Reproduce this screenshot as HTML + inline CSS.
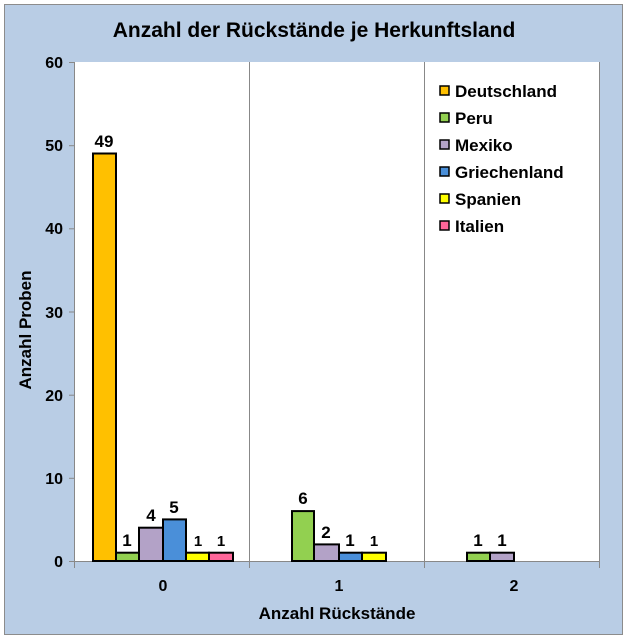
<!DOCTYPE html>
<html><head><meta charset="utf-8"><style>
body{margin:0;background:#fff;}
svg{display:block;font-family:"Liberation Sans",Arial,sans-serif;font-weight:bold;}
</style></head><body>
<svg width="628" height="640" viewBox="0 0 628 640">
<rect x="4.5" y="4.5" width="618" height="630" fill="#b9cde5" stroke="#8c8c8c" stroke-width="1"/>
<text x="314" y="37" font-size="21" text-anchor="middle">Anzahl der Rückstände je Herkunftsland</text>
<rect x="75" y="62" width="524" height="499" fill="#fff"/>
<g stroke="#888" stroke-width="1">
<line x1="249.5" y1="62" x2="249.5" y2="568"/>
<line x1="424.5" y1="62" x2="424.5" y2="568"/>
<line x1="599.5" y1="62" x2="599.5" y2="568"/>
<line x1="74.5" y1="62" x2="74.5" y2="568"/>
<line x1="69" y1="561.5" x2="599" y2="561.5"/>
<line x1="69" y1="478.3" x2="75" y2="478.3"/>
<line x1="69" y1="395.2" x2="75" y2="395.2"/>
<line x1="69" y1="312" x2="75" y2="312"/>
<line x1="69" y1="228.8" x2="75" y2="228.8"/>
<line x1="69" y1="145.7" x2="75" y2="145.7"/>
<line x1="69" y1="62.5" x2="75" y2="62.5"/>
</g>
<g font-size="16" text-anchor="end">
<text x="63" y="567">0</text><text x="63" y="484">10</text><text x="63" y="401">20</text>
<text x="63" y="318">30</text><text x="63" y="234">40</text><text x="63" y="151">50</text><text x="63" y="68">60</text>
</g>
<g font-size="16" text-anchor="middle">
<text x="163" y="591">0</text><text x="339" y="591">1</text><text x="514" y="591">2</text>
<text x="337" y="619" font-size="17">Anzahl Rückstände</text>
</g>
<text transform="translate(31,330) rotate(-90)" font-size="17" text-anchor="middle">Anzahl Proben</text>
<g stroke="#000" stroke-width="2">
<rect x="93" y="153.5" width="23" height="407.5" fill="#ffc000"/>
<rect x="116" y="552.7" width="23" height="8.3" fill="#92d050"/>
<rect x="139" y="527.7" width="24" height="33.3" fill="#b3a2c7"/>
<rect x="163" y="519.4" width="23" height="41.6" fill="#4a8fd9"/>
<rect x="186" y="552.7" width="23" height="8.3" fill="#ffff00"/>
<rect x="209" y="552.7" width="24" height="8.3" fill="#ff6699"/>
<rect x="292" y="511.1" width="22" height="49.9" fill="#92d050"/>
<rect x="314" y="544.4" width="25" height="16.6" fill="#b3a2c7"/>
<rect x="339" y="552.7" width="23" height="8.3" fill="#4a8fd9"/>
<rect x="362" y="552.7" width="24" height="8.3" fill="#ffff00"/>
<rect x="467" y="552.7" width="23" height="8.3" fill="#92d050"/>
<rect x="490" y="552.7" width="24" height="8.3" fill="#b3a2c7"/>
</g>
<g font-size="17" text-anchor="middle">
<text x="104" y="147">49</text>
<text x="127" y="546">1</text><text x="151" y="521">4</text><text x="174" y="513">5</text>
<text x="198" y="546" font-size="15">1</text><text x="221" y="546" font-size="15">1</text>
<text x="303" y="504">6</text><text x="326" y="538">2</text><text x="350" y="546">1</text><text x="374" y="546" font-size="15">1</text>
<text x="478" y="546">1</text><text x="502" y="546">1</text>
</g>
<g stroke="#000" stroke-width="1.5">
<rect x="440" y="86" width="9" height="9" fill="#ffc000"/>
<rect x="440" y="113" width="9" height="9" fill="#92d050"/>
<rect x="440" y="140" width="9" height="9" fill="#b3a2c7"/>
<rect x="440" y="167" width="9" height="9" fill="#4a8fd9"/>
<rect x="440" y="194" width="9" height="9" fill="#ffff00"/>
<rect x="440" y="221" width="9" height="9" fill="#ff6699"/>
</g>
<g font-size="17">
<text x="455" y="97">Deutschland</text><text x="455" y="124">Peru</text><text x="455" y="151">Mexiko</text>
<text x="455" y="178">Griechenland</text><text x="455" y="205">Spanien</text><text x="455" y="232">Italien</text>
</g>
</svg>
</body></html>
